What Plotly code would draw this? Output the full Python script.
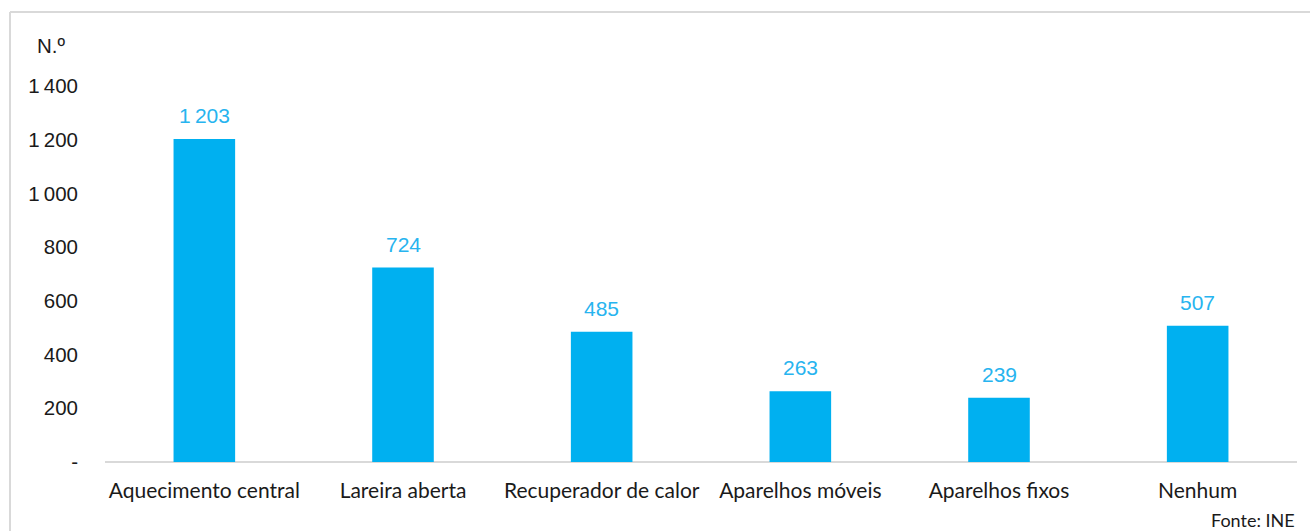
import plotly.graph_objects as go

# Alojamentos por tipo de aquecimento (N.º)
categorias = ["Aquecimento central", "Lareira aberta", "Recuperador de calor",
              "Aparelhos móveis", "Aparelhos fixos", "Nenhum"]
valores = [1203, 724, 485, 263, 239, 507]

tick_vals = [0, 200, 400, 600, 800, 1000, 1200, 1400]
tick_text = ["-", "200", "400", "600", "800", "1\u2009000", "1\u2009200", "1\u2009400"]

BAR = "#00B0F0"
LABEL = "#27b4ef"
GRID = "#d9d9d9"
NUM_FONT = "Liberation Sans, Arial, sans-serif"
CAT_FONT = "Lato, Liberation Sans, sans-serif"


def fmt(v):
    s = f"{v:,}"
    return s.replace(",", "\u2009")


fig = go.Figure()
fig.add_trace(go.Bar(
    x=categorias, y=valores,
    marker=dict(color=BAR, line=dict(width=0)),
    width=0.31,
    hoverinfo="skip",
))

for c, v in zip(categorias, valores):
    fig.add_annotation(
        x=c, y=v, text=fmt(v), showarrow=False,
        yanchor="bottom", yshift=10,
        font=dict(family=NUM_FONT, size=21, color=LABEL),
    )

# unidade do eixo
fig.add_annotation(
    xref="paper", yref="paper", x=-0.0445, y=1.0, yshift=41,
    text="N.º", showarrow=False, xanchor="center", yanchor="middle",
    font=dict(family=NUM_FONT, size=20.5, color="#1a1a1a"),
)
# fonte
fig.add_annotation(
    xref="paper", yref="paper", x=1.0, y=0, yshift=-58,
    text="Fonte: INE", showarrow=False, xanchor="right", yanchor="middle",
    font=dict(family=CAT_FONT, size=18, color="#1a1a1a"),
)

# moldura do gráfico
L, B, W, H = 105, 69, 1192, 376
px = lambda x: (x - L) / W
py = lambda y: (531 - B - y) / H
fig.add_shape(type="line", xref="paper", yref="paper",
              x0=px(10), x1=px(10), y0=py(12), y1=py(540),
              line=dict(color=GRID, width=2))
fig.add_shape(type="line", xref="paper", yref="paper",
              x0=px(10), x1=px(1320), y0=py(12), y1=py(12),
              line=dict(color=GRID, width=2))

fig.update_layout(
    width=1310, height=531,
    margin=dict(l=L, r=1310 - L - W, t=531 - B - H, b=B),
    paper_bgcolor="white", plot_bgcolor="white",
    showlegend=False,
    bargap=0.69,
    xaxis=dict(
        showgrid=False, zeroline=False, showline=False, ticks="",
        tickfont=dict(family=CAT_FONT, size=21, color="#1a1a1a"),
        ticklabelstandoff=14,
    ),
    yaxis=dict(
        range=[0, 1400], showgrid=False, zeroline=True, zerolinecolor=GRID,
        zerolinewidth=2, showline=False, ticks="",
        tickvals=tick_vals, ticktext=tick_text,
        tickfont=dict(family=NUM_FONT, size=20.5, color="#1a1a1a"),
        ticklabelstandoff=26,
    ),
)

fig.write_html("out.html")
